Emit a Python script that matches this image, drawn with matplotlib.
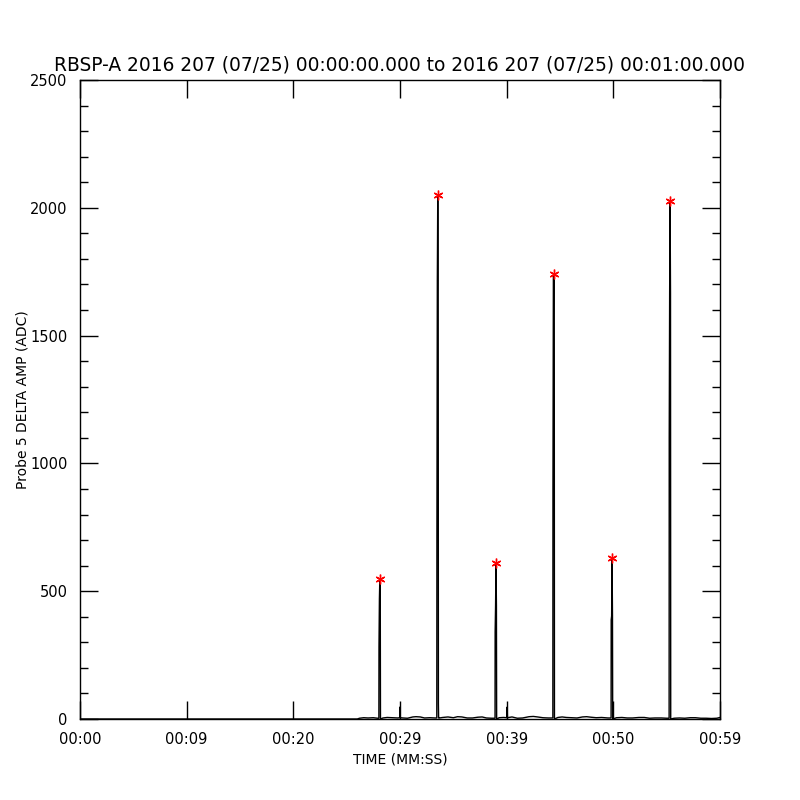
import matplotlib
matplotlib.use("Agg")
import matplotlib.pyplot as plt
from matplotlib.ticker import MultipleLocator

title = "RBSP-A 2016 207 (07/25) 00:00:00.000 to 2016 207 (07/25) 00:01:00.000"
xlabel = "TIME (MM:SS)"
ylabel = "Probe 5 DELTA AMP (ADC)"

# time (s) and amplitude (ADC)
time_s = [0.0, 26.0, 26.2, 26.6, 27.0, 27.5, 27.9, 28.02,
          28.03, 28.07, 28.11, 28.15, 28.17, 28.4, 28.8, 29.3, 29.8, 29.98, 30.0, 30.02, 30.3, 30.7, 31.2, 31.5, 31.9, 32.3, 32.8, 33.3, 33.45,
          33.46, 33.50, 33.54, 33.58, 33.60, 33.62, 33.7, 34.0, 34.5, 35.0, 35.4, 35.8, 36.3, 36.8, 37.3, 37.7, 38.1, 38.6, 38.91,
          38.92, 38.96, 39.00, 39.04, 39.06, 39.3, 39.7, 40.03, 40.05, 40.07, 40.5, 41.0, 41.5, 42.1, 42.5, 42.9, 43.4, 43.9, 44.33,
          44.34, 44.38, 44.42, 44.46, 44.48, 44.8, 45.2, 45.6, 46.1, 46.6, 47.1, 47.5, 47.9, 48.4, 48.9, 49.5, 49.79,
          49.80, 49.84, 49.88, 49.92, 49.94, 50.3, 50.8, 51.3, 51.8, 52.4, 52.9, 53.4, 53.9, 54.5, 55.0, 55.23,
          55.24, 55.28, 55.32, 55.36, 55.38, 55.7, 56.2, 56.7, 57.2, 57.7, 58.2, 58.7, 59.2, 59.7, 60.0]
amp_adc = [0, 0, 3, 5, 4, 5, 3, 3,
           282, 470, 548, 470, 0, 4, 6, 5, 4, 5, 47, 5, 4, 3, 8, 9, 8, 4, 5, 4, 4,
           690, 1715, 2050, 1715, 60, 4, 4, 6, 8, 5, 9, 8, 4, 4, 7, 8, 4, 3, 3,
           341, 443, 611, 443, 0, 5, 6, 5, 47, 5, 8, 3, 4, 9, 10, 8, 5, 4, 4,
           893, 1735, 1740, 1735, 0, 6, 8, 6, 5, 4, 8, 9, 7, 5, 6, 4, 4,
           388, 403, 631, 403, 0, 5, 6, 4, 4, 6, 6, 3, 4, 4, 3, 3,
           1100, 1665, 2025, 1665, 0, 3, 4, 3, 5, 5, 3, 3, 2, 3, 6]

peak_t = [28.11, 33.54, 39.00, 44.42, 49.88, 55.32]
peak_v = [548, 2050, 611, 1740, 631, 2025]

xtick_pos = [0, 10, 20, 30, 40, 50, 60]
xtick_labels = ["00:00", "00:09", "00:20", "00:29", "00:39", "00:50", "00:59"]

fig = plt.figure(figsize=(8, 8), dpi=100)
ax = fig.add_axes([0.1, 0.10125, 0.8, 0.79875])
ax.plot(time_s, amp_adc, color="black", lw=1.0)
ax.plot(peak_t, peak_v, linestyle="none", marker=(6, 2, 0), markersize=7,
        markeredgewidth=1.0, color="red")

ax.set_xlim(0, 60)
ax.set_ylim(0, 2500)
ax.set_xticks(xtick_pos)
ax.set_xticklabels(xtick_labels)
ax.yaxis.set_major_locator(MultipleLocator(500))
ax.yaxis.set_minor_locator(MultipleLocator(100))
ax.tick_params(axis="both", which="major", direction="in", length=13, width=1,
               top=True, right=True, labelsize=10.5, pad=9, colors="black")
ax.tick_params(axis="y", which="minor", direction="in", length=6, width=1,
               left=True, right=True)
for s in ax.spines.values():
    s.set_linewidth(1.0)

ax.set_title(title, fontsize=13.4, pad=7)
ax.set_xlabel(xlabel, fontsize=10, labelpad=4)
ax.set_ylabel(ylabel, fontsize=10, labelpad=0.5)

fig.savefig("out.png", dpi=100)
